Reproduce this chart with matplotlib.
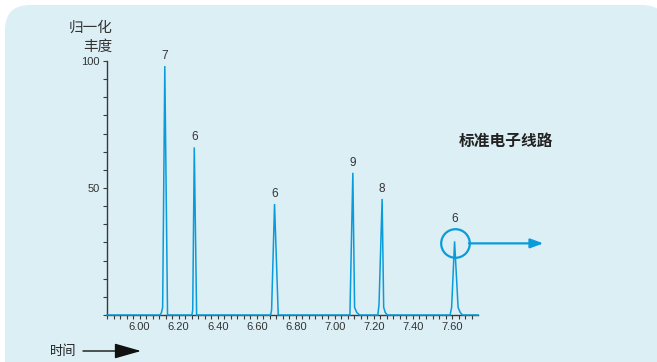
import matplotlib
matplotlib.use("Agg")
import matplotlib.pyplot as plt
from matplotlib.patches import FancyBboxPatch, FancyArrowPatch
from matplotlib.ticker import MultipleLocator, FixedLocator
from matplotlib import font_manager

plt.rcParams['font.family'] = ['Noto Sans CJK SC', 'DejaVu Sans']

# chromatogram trace (retention time, normalised abundance)
trace_time = [5.833,
              6.105, 6.112, 6.118, 6.129, 6.143,
              6.268, 6.272, 6.280, 6.292,
              6.671, 6.676, 6.691, 6.710,
              7.077, 7.092, 7.101, 7.112, 7.127,
              7.220, 7.226, 7.242, 7.250, 7.258, 7.268,
              7.590, 7.598, 7.613, 7.631, 7.642, 7.653,
              7.733]
trace_abund = [0,
               0, 1, 3, 98, 0,
               0, 2, 66, 0,
               0, 2, 43.7, 0,
               0, 56, 3, 1, 0,
               0, 4, 45.7, 3, 1, 0,
               0, 3, 29, 3, 1, 0,
               0]

peak_times = [6.129, 6.280, 6.691, 7.092, 7.242, 7.613]
peak_heights = [98, 66, 43.7, 56, 45.7, 29]
peak_labels = ['7', '6', '6', '9', '8', '6']

y_ticks = [50, 100]
x_ticks = [6.00, 6.20, 6.40, 6.60, 6.80, 7.00, 7.20, 7.40, 7.60]

blue = '#0A9BDB'
axis_col = '#3a3a3a'
text_col = '#333333'

# narrow face for the numbers if one is installed
names = {f.name for f in font_manager.fontManager.ttflist}
narrow = [n for n in ['Liberation Sans Narrow', 'Liberation Sans']
          if n in names] + ['DejaVu Sans']

W, H = 657, 362
fig = plt.figure(figsize=(W / 100, H / 100), dpi=100)
fig.patch.set_facecolor('white')

# light panel behind the chart
panel = FancyBboxPatch((0.05, -0.3), 6.62, 3.87,
                       boxstyle='round,pad=0,rounding_size=0.25',
                       transform=fig.dpi_scale_trans,
                       facecolor='#DCEFF5', edgecolor='none', zorder=-5)
fig.patches.append(panel)

ax = fig.add_axes([107 / W, 1 - 315 / H, (478 - 107) / W, (315 - 61) / H])
ax.set_facecolor('none')
ax.set_zorder(2)
ax.set_xlim(5.833, 7.733)
ax.set_ylim(0, 100)

ax.plot(trace_time, trace_abund, color=blue, lw=1.1, clip_on=False, zorder=3,
        solid_joinstyle='miter')

# the last label sits above the highlight ring
label_pad = [3, 3, 3, 3, 3, 12]
for t, h, lab, pad in zip(peak_times, peak_heights, peak_labels, label_pad):
    ax.annotate(lab, (t, h), xytext=(0, pad), textcoords='offset points',
                ha='center', va='bottom', fontsize=8.5, color=text_col,
                family=narrow, annotation_clip=False)

for side in ['top', 'right']:
    ax.spines[side].set_visible(False)
ax.spines['left'].set_color(axis_col)
ax.spines['bottom'].set_color(axis_col)
ax.spines['left'].set_linewidth(1.0)
ax.spines['bottom'].set_linewidth(1.0)

ax.xaxis.set_major_locator(FixedLocator(x_ticks))
ax.xaxis.set_minor_locator(MultipleLocator(0.2 / 6))
ax.yaxis.set_major_locator(FixedLocator(y_ticks))
ax.yaxis.set_minor_locator(MultipleLocator(50 / 7))
ax.set_xticklabels(['%.2f' % v for v in x_ticks], family=narrow, fontsize=8,
                   color=text_col)
ax.set_yticklabels([str(v) for v in y_ticks], family=narrow, fontsize=8,
                   color=text_col)
ax.tick_params(axis='both', which='both', length=3, width=0.8, color=axis_col,
               pad=2)

# circled last peak with arrow pointing out
cy = 28.2
ax.plot([7.613], [cy], 'o', ms=20.6, mfc='none', mec=blue, mew=1.6,
        clip_on=False, zorder=4)
ax.annotate('', xy=(8.068, cy), xytext=(7.613, cy), annotation_clip=False,
            arrowprops=dict(arrowstyle='-|>,head_length=0.55,head_width=0.2',
                            mutation_scale=14, color=blue, lw=1.6,
                            shrinkA=10.3, shrinkB=0))

fig.text(113 / W, 1 - 28 / H, '归一化', ha='right', va='center',
         fontsize=10.5, fontweight='medium', color=text_col)
fig.text(113 / W, 1 - 47 / H, '丰度', ha='right', va='center',
         fontsize=10.5, fontweight='medium', color=text_col)
fig.text(459 / W, 1 - 141 / H, '标准电子线路', ha='left', va='center',
         fontsize=11.3, fontweight='bold', color='#222222')
fig.text(50 / W, 1 - 351 / H, '时间', ha='left', va='center',
         fontsize=9.5, fontweight='medium', color='#222222')
fig.patches.append(FancyArrowPatch(
    (83 / W, 1 - 351 / H), (141 / W, 1 - 351 / H), transform=fig.transFigure,
    arrowstyle='-|>,head_length=1.65,head_width=0.47', mutation_scale=10,
    color='#111111', lw=1.0, shrinkA=0, shrinkB=0))

fig.savefig('out.png', dpi=100)
